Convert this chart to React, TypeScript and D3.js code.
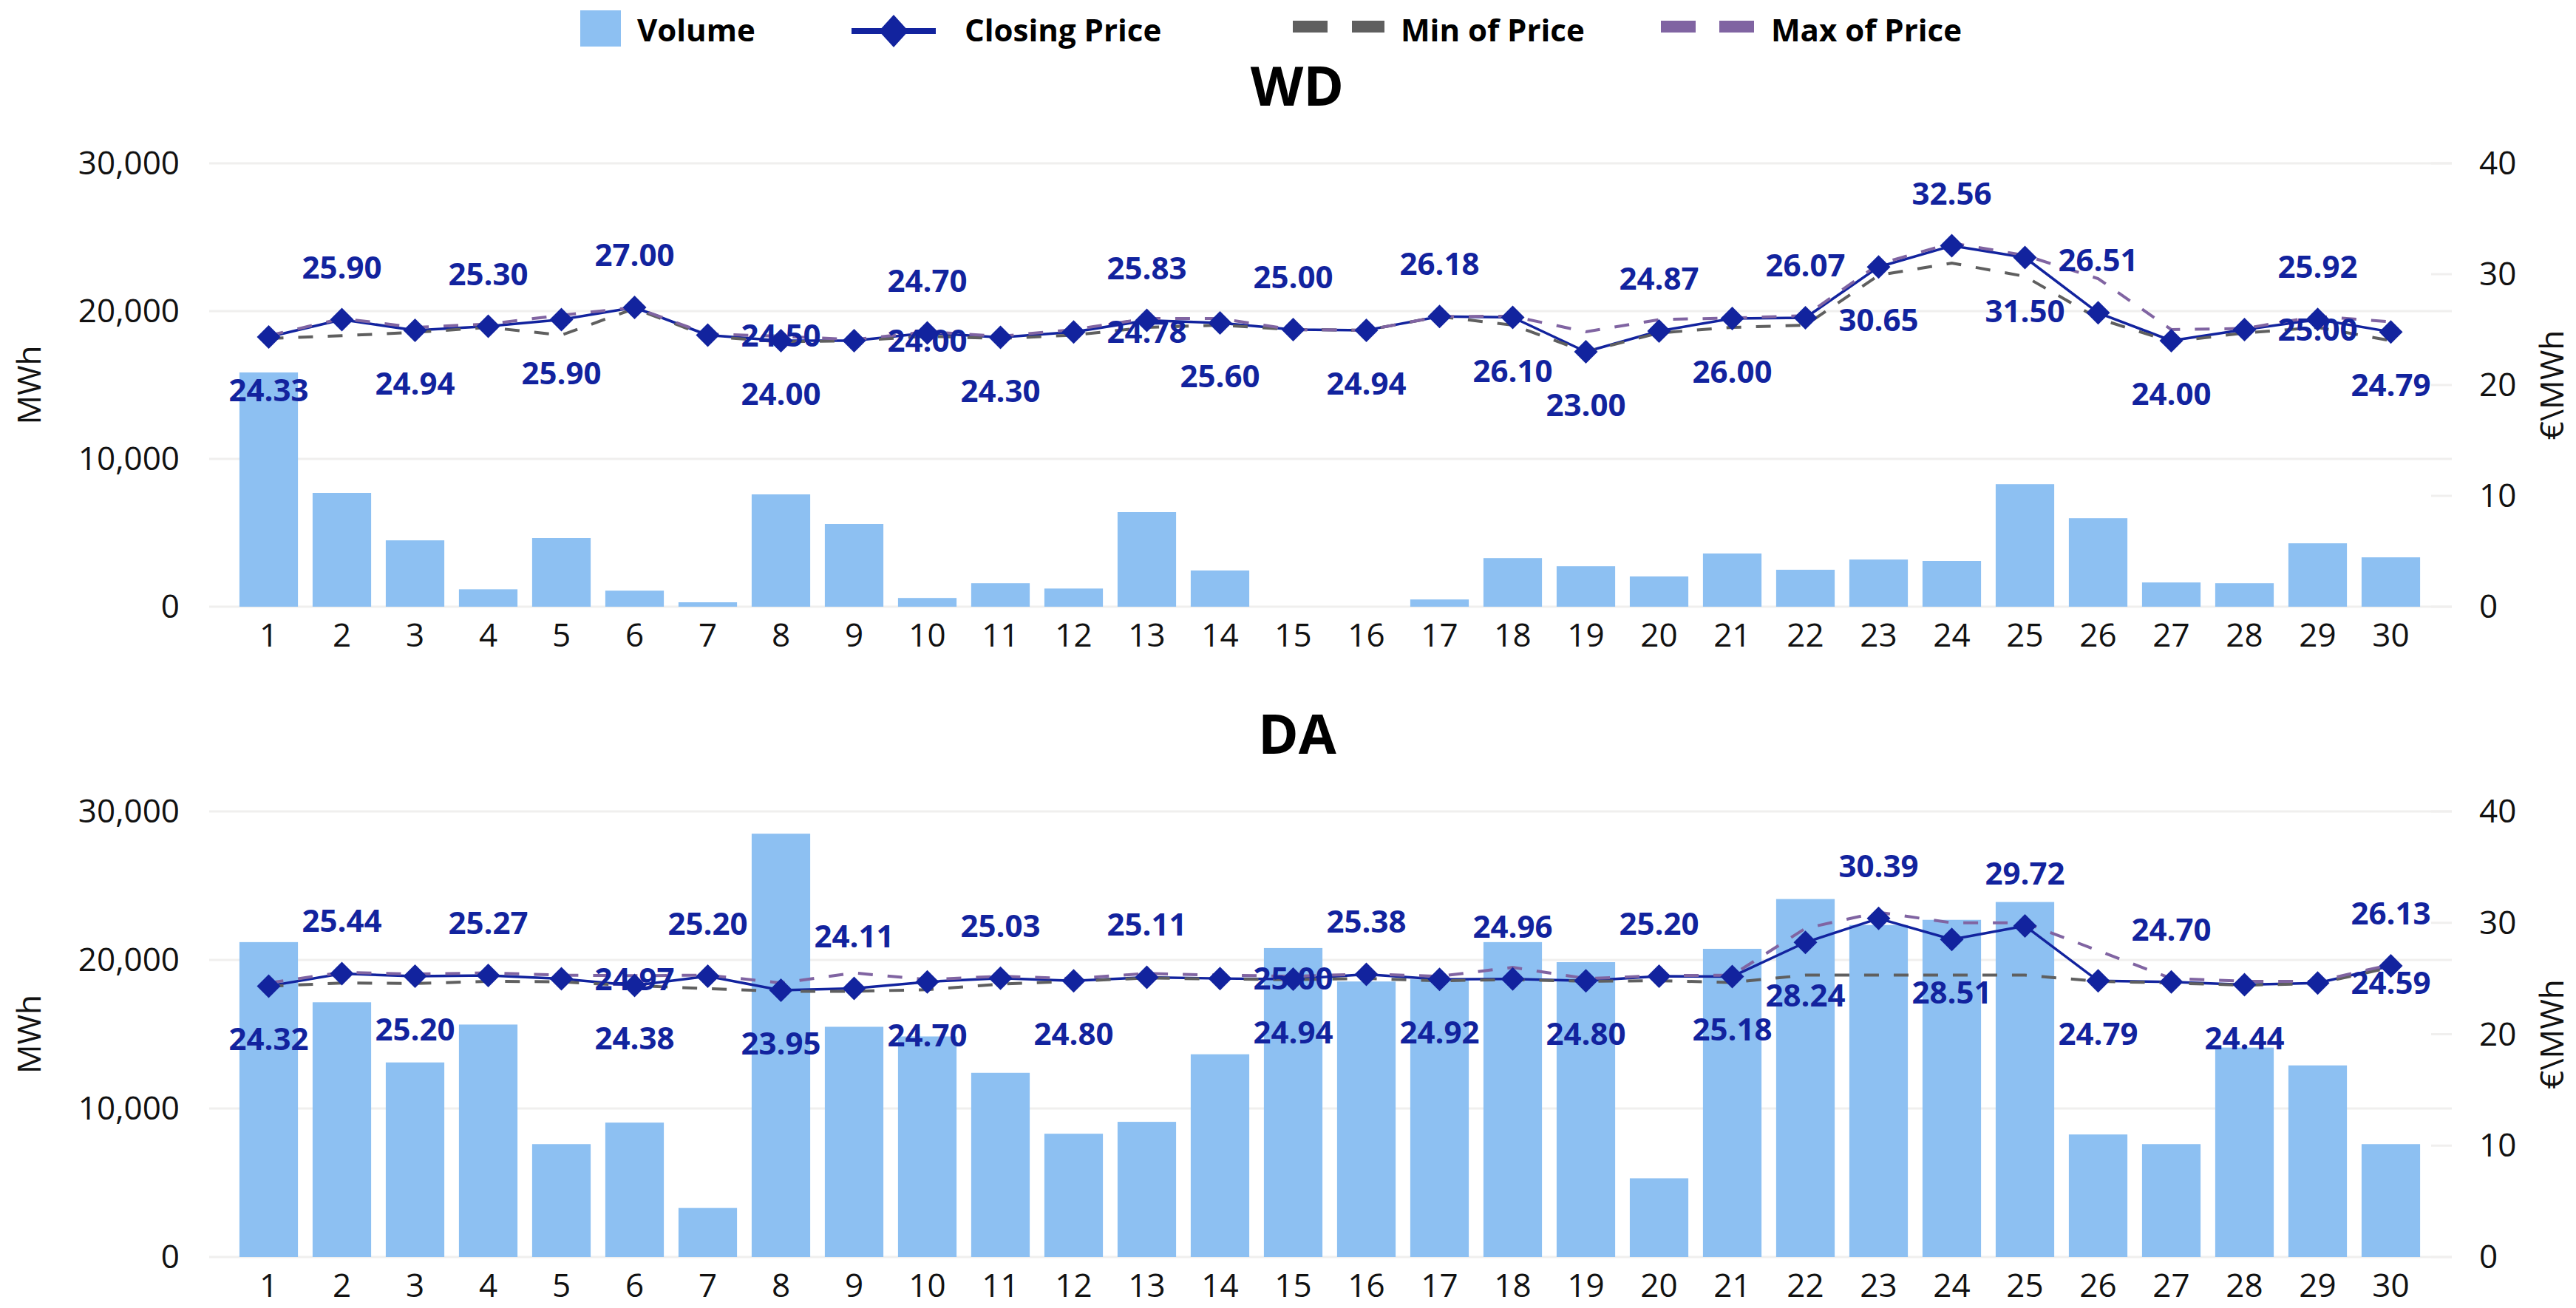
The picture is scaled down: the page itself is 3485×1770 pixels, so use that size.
import * as d3 from "d3"

// categories
const days = ["1", "2", "3", "4", "5", "6", "7", "8", "9", "10", "11", "12", "13", "14", "15",
  "16", "17", "18", "19", "20", "21", "22", "23", "24", "25", "26", "27", "28", "29", "30"]

const volumeTicks = [0, 10000, 20000, 30000]
const priceTicks = [0, 10, 20, 30, 40]

// WD
const wdVolume = [15850, 7700, 4490, 1180, 4650, 1085, 300, 7600, 5600, 590, 1590, 1230, 6400, 2450, 0,
  0, 490, 3290, 2740, 2045, 3600, 2500, 3190, 3100, 8290, 5990, 1640, 1590, 4290, 3340]
const wdClose = [24.33, 25.9, 24.94, 25.3, 25.9, 27.0, 24.5, 24.0, 24.0, 24.7, 24.3, 24.78, 25.83, 25.6, 25.0,
  24.94, 26.18, 26.1, 23.0, 24.87, 26.0, 26.07, 30.65, 32.56, 31.5, 26.51, 24.0, 25.0, 25.92, 24.79]
const wdMin = [24.2, 24.45, 24.75, 25.2, 24.5, 26.9, 24.4, 23.9, 24.0, 24.4, 24.2, 24.5, 25.2, 25.4, 25.0,
  24.94, 26.18, 25.4, 23.0, 24.7, 25.2, 25.4, 29.9, 31.0, 29.8, 26.0, 23.9, 24.7, 25.2, 24.0]
const wdMax = [24.45, 26.0, 25.2, 25.5, 26.3, 27.0, 24.6, 24.4, 24.1, 24.8, 24.4, 25.0, 26.0, 26.0, 25.0,
  24.94, 26.18, 26.2, 24.8, 25.9, 26.05, 26.25, 30.9, 32.8, 31.7, 29.6, 25.0, 25.1, 26.2, 25.7]
// label placement: a = above, b = below, n = drawn at the next category
const wdLabelPos = ["b", "a", "b", "a", "b", "a", "n", "b", "n", "a", "b", "n", "a", "b", "a",
  "b", "a", "b", "b", "a", "b", "a", "b", "a", "b", "a", "b", "n", "a", "b"]

// DA
const daVolume = [21200, 17150, 13100, 15650, 7600, 9050, 3300, 28500, 15500, 14850, 12400, 8300, 9100, 13650, 20800,
  18550, 18700, 21200, 19850, 5300, 20750, 24100, 22350, 22700, 23900, 8250, 7600, 14100, 12900, 7600]
const daClose = [24.32, 25.44, 25.2, 25.27, 24.97, 24.38, 25.2, 23.95, 24.11, 24.7, 25.03, 24.8, 25.11, 25.0, 24.94,
  25.38, 24.92, 24.96, 24.8, 25.2, 25.18, 28.24, 30.39, 28.51, 29.72, 24.79, 24.7, 24.44, 24.59, 26.13]
const daMin = [24.3, 24.6, 24.55, 24.75, 24.7, 24.35, 24.1, 23.85, 23.85, 24.0, 24.5, 24.75, 25.05, 24.95, 24.9,
  25.0, 24.8, 24.9, 24.75, 24.8, 24.65, 25.3, 25.3, 25.3, 25.3, 24.75, 24.6, 24.4, 24.55, 26.0]
const daMax = [24.6, 25.55, 25.4, 25.5, 25.3, 25.25, 25.3, 24.6, 25.5, 24.9, 25.2, 25.0, 25.45, 25.3, 25.2,
  25.4, 25.2, 26.0, 25.0, 25.25, 25.3, 29.5, 30.95, 30.0, 30.0, 27.5, 25.0, 24.75, 24.75, 26.25]
const daLabelPos = ["b", "a", "b", "a", "n", "b", "a", "b", "a", "b", "a", "b", "a", "n", "b",
  "a", "b", "a", "b", "a", "b", "b", "a", "b", "a", "b", "a", "b", "n", "a"]

const FONT = "'Segoe UI', 'Open Sans', sans-serif"
const BAR = "#8DC0F2"
const LINE = "#12239E"
const MIN_C = "#5F5F5F"
const MAX_C = "#8064A2"
const GRID = "#F0EFEE"
const TEXT = "#111"

const W = 3485
const H = 1770
const gridX0 = 283
const gridX1 = 3317

const diamond = (cx: number, cy: number, rx: number, ry: number) =>
  `M${cx},${cy - ry}L${cx + rx},${cy}L${cx},${cy + ry}L${cx - rx},${cy}Z`

interface PanelProps {
  title: string
  top: number
  bottom: number
  volume: number[]
  close: number[]
  min: number[]
  max: number[]
  labelPos: string[]
}

function Panel({ title, top, bottom, volume, close, min, max, labelPos }: PanelProps) {
  const x = d3.scaleBand().domain(days).range([314, 3284]).paddingInner(0.2).paddingOuter(0.1)
  const yV = d3.scaleLinear().domain([0, 30000]).range([bottom, top])
  const yP = d3.scaleLinear().domain([0, 40]).range([bottom, top])
  const cx = (i: number) => (x(days[i]) as number) + x.bandwidth() / 2
  const line = d3
    .line<number>()
    .x((_, i) => cx(i))
    .y((d) => yP(d))
  const fmt = d3.format(",")

  return (
    <g>
      <text x={1755} y={top - 78} textAnchor="middle" fontFamily={FONT} fontWeight={700} fontSize={74} fill="#000">
        {title}
      </text>

      {/* gridlines */}
      {volumeTicks.map((t) => (
        <line key={"g" + t} x1={gridX0} x2={gridX1} y1={yV(t)} y2={yV(t)} stroke={GRID} strokeWidth={3} />
      ))}
      {priceTicks.map((t) => (
        <line key={"p" + t} x1={3289} x2={gridX1} y1={yP(t)} y2={yP(t)} stroke={GRID} strokeWidth={3} />
      ))}

      {/* axis labels */}
      {volumeTicks.map((t) => (
        <text key={"lt" + t} x={243} y={yV(t) + 15} textAnchor="end" fontFamily={FONT} fontSize={44} fill={TEXT}>
          {fmt(t)}
        </text>
      ))}
      {priceTicks.map((t) => (
        <text key={"rt" + t} x={3354} y={yP(t) + 15} textAnchor="start" fontFamily={FONT} fontSize={44} fill={TEXT}>
          {t}
        </text>
      ))}
      {days.map((d, i) => (
        <text key={"x" + d} x={cx(i)} y={bottom + 54} textAnchor="middle" fontFamily={FONT} fontSize={44} fill={TEXT}>
          {d}
        </text>
      ))}
      <text
        transform={`translate(38,${(top + bottom) / 2}) rotate(-90)`}
        textAnchor="middle"
        dominantBaseline="central"
        fontFamily={FONT}
        fontSize={44}
        fill={TEXT}
      >
        MWh
      </text>
      <text
        transform={`translate(3451,${(top + bottom) / 2}) rotate(-90)`}
        textAnchor="middle"
        dominantBaseline="central"
        fontFamily={FONT}
        fontSize={44}
        fill={TEXT}
      >
        €\MWh
      </text>

      {/* bars */}
      {volume.map((v, i) => (
        <rect
          key={"b" + i}
          x={x(days[i])}
          y={yV(v)}
          width={x.bandwidth()}
          height={bottom - yV(v)}
          fill={BAR}
        />
      ))}

      {/* lines */}
      <path d={line(close) ?? ""} fill="none" stroke={LINE} strokeWidth={3.5} strokeLinejoin="round" />
      <path d={line(min) ?? ""} fill="none" stroke={MIN_C} strokeWidth={4} strokeDasharray="20 20" />
      <path d={line(max) ?? ""} fill="none" stroke={MAX_C} strokeWidth={4} strokeDasharray="20 20" />
      {close.map((v, i) => (
        <path key={"m" + i} d={diamond(cx(i), yP(v), 16, 16)} fill={LINE} />
      ))}

      {/* data labels */}
      {close.map((v, i) => {
        const p = labelPos[i]
        const lx = p === "n" ? cx(i + 1) : cx(i)
        const ly = p === "a" ? yP(v) - 56 : p === "b" ? yP(v) + 87 : yP(v) + 15
        return (
          <text
            key={"l" + i}
            x={lx}
            y={ly}
            textAnchor="middle"
            fontFamily={FONT}
            fontWeight={700}
            fontSize={42}
            fill={LINE}
          >
            {v.toFixed(2)}
          </text>
        )
      })}
    </g>
  )
}

function Legend() {
  return (
    <g fontFamily={FONT} fontWeight={700} fontSize={42} fill="#000">
      <rect x={785} y={14} width={55} height={49} fill={BAR} />
      <text x={862} y={56}>Volume</text>

      <line x1={1152} x2={1266} y1={42} y2={42} stroke={LINE} strokeWidth={8} />
      <path d={diamond(1209, 42, 20, 22)} fill={LINE} />
      <text x={1305} y={56}>Closing Price</text>

      <rect x={1749} y={28} width={47} height={16} fill={MIN_C} />
      <rect x={1829} y={28} width={44} height={16} fill={MIN_C} />
      <text x={1895} y={56}>Min of Price</text>

      <rect x={2247} y={28} width={47} height={16} fill={MAX_C} />
      <rect x={2326} y={28} width={47} height={16} fill={MAX_C} />
      <text x={2396} y={56}>Max of Price</text>
    </g>
  )
}

export default function App() {
  return (
    <div style={{ position: "absolute", left: 0, top: 0 }}>
      <svg width={W} height={H} style={{ display: "block", background: "#fff" }}>
        <Legend />
        <Panel
          title="WD"
          top={221}
          bottom={821}
          volume={wdVolume}
          close={wdClose}
          min={wdMin}
          max={wdMax}
          labelPos={wdLabelPos}
        />
        <Panel
          title="DA"
          top={1098}
          bottom={1701}
          volume={daVolume}
          close={daClose}
          min={daMin}
          max={daMax}
          labelPos={daLabelPos}
        />
      </svg>
    </div>
  )
}
